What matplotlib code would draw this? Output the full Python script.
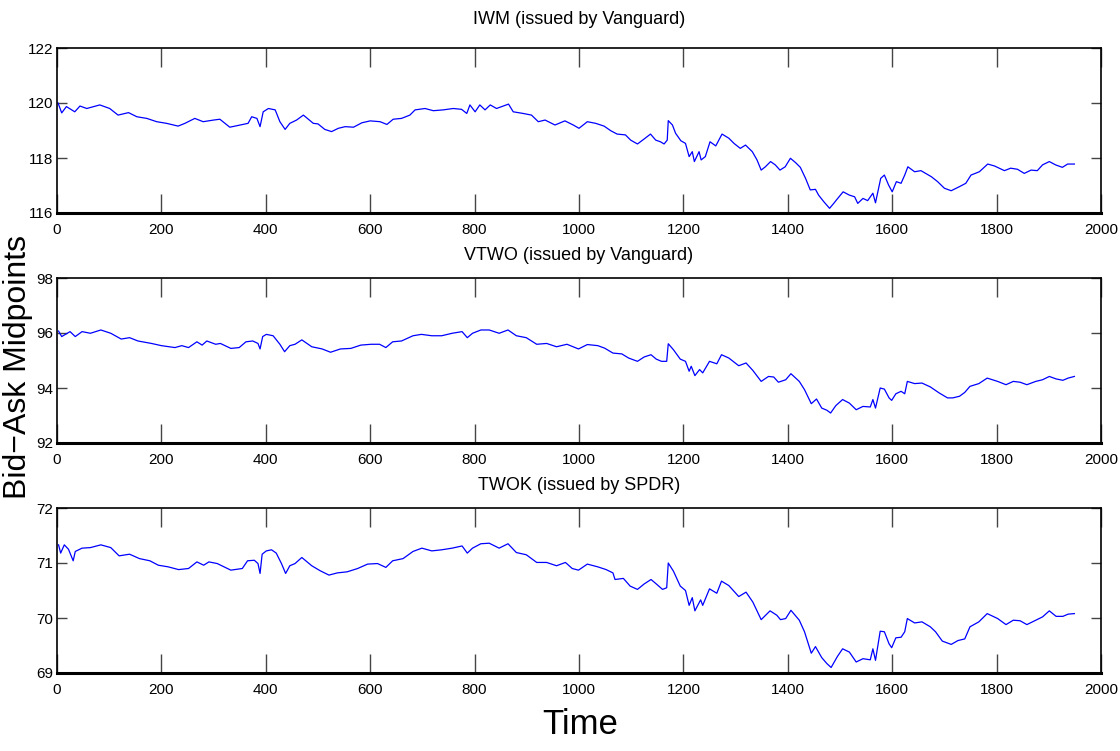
import numpy as np
import matplotlib
matplotlib.use("Agg")
import matplotlib.pyplot as plt

plt.rcParams['font.family'] = ['Liberation Sans', 'DejaVu Sans']

# IWM midpoints
iwm_t = [2, 9, 18, 34, 44, 57, 82, 101, 117, 137, 153, 172, 191, 210, 232, 245, 264, 280,
         300, 312, 331, 351, 366, 373, 383, 389, 395, 405, 418, 427, 437, 446, 459, 472,
         491, 500, 513, 526, 539, 552, 568, 584, 600, 619, 632, 644, 660, 676, 686, 705,
         721, 740, 759, 775, 785, 791, 801, 810, 820, 830, 842, 855, 865, 874, 893, 909,
         922, 935, 954, 973, 989, 1000, 1016, 1032, 1048, 1061, 1073, 1089, 1099, 1112,
         1124, 1137, 1147, 1156, 1163, 1169, 1171, 1179, 1185, 1195, 1204, 1211, 1217,
         1221, 1230, 1234, 1242, 1251, 1262, 1274, 1287, 1297, 1309, 1319, 1332, 1341,
         1349, 1357, 1367, 1376, 1385, 1395, 1405, 1415, 1424, 1434, 1443, 1453, 1459,
         1469, 1480, 1488, 1493, 1506, 1518, 1528, 1534, 1544, 1553, 1563, 1568, 1578,
         1585, 1593, 1600, 1608, 1617, 1624, 1630, 1643, 1655, 1675, 1687, 1700, 1713,
         1729, 1741, 1751, 1767, 1783, 1796, 1815, 1827, 1840, 1853, 1866, 1878, 1888,
         1901, 1913, 1926, 1936, 1949]
iwm_px = [120.0, 119.64, 119.87, 119.68, 119.89, 119.8, 119.93, 119.8, 119.56, 119.65,
          119.5, 119.44, 119.32, 119.26, 119.16, 119.26, 119.44, 119.32, 119.38, 119.41,
          119.12, 119.2, 119.26, 119.5, 119.44, 119.14, 119.68, 119.8, 119.75, 119.32,
          119.04, 119.26, 119.38, 119.56, 119.26, 119.24, 119.04, 118.96, 119.08, 119.14,
          119.12, 119.28, 119.35, 119.32, 119.22, 119.41, 119.44, 119.56, 119.75, 119.8,
          119.72, 119.75, 119.8, 119.77, 119.62, 119.93, 119.68, 119.93, 119.75, 119.93,
          119.8, 119.89, 119.96, 119.68, 119.62, 119.56, 119.32, 119.38, 119.2, 119.35,
          119.2, 119.08, 119.32, 119.26, 119.16, 118.99, 118.87, 118.84, 118.65, 118.51,
          118.68, 118.87, 118.65, 118.59, 118.51, 118.65, 119.36, 119.2, 118.9, 118.63,
          118.53, 118.05, 118.23, 117.87, 118.23, 117.93, 118.05, 118.59, 118.44, 118.87,
          118.72, 118.53, 118.35, 118.47, 118.23, 117.93, 117.56, 117.68, 117.87, 117.75,
          117.56, 117.68, 117.99, 117.83, 117.66, 117.26, 116.84, 116.86, 116.65, 116.41,
          116.17, 116.35, 116.47, 116.77, 116.65, 116.59, 116.35, 116.53, 116.45, 116.72,
          116.37, 117.26, 117.38, 117.02, 116.77, 117.14, 117.08, 117.38, 117.68, 117.5,
          117.54, 117.32, 117.14, 116.9, 116.81, 116.96, 117.08, 117.38, 117.5, 117.78,
          117.71, 117.54, 117.63, 117.59, 117.44, 117.56, 117.54, 117.75, 117.87, 117.75,
          117.66, 117.78, 117.78]

# VTWO midpoints, middle panel
vtwo_t = [3, 9, 25, 35, 48, 64, 84, 103, 123, 139, 155, 181, 200, 226, 239, 252, 268, 278,
          287, 304, 313, 333, 349, 362, 375, 385, 389, 394, 401, 414, 427, 436, 446, 456,
          469, 488, 508, 524, 543, 563, 582, 602, 618, 630, 643, 660, 682, 698, 718, 737,
          757, 776, 786, 796, 812, 828, 847, 864, 880, 899, 919, 938, 957, 977, 999, 1016,
          1036, 1049, 1065, 1082, 1095, 1112, 1125, 1138, 1148, 1158, 1168, 1171, 1181,
          1194, 1204, 1211, 1215, 1222, 1231, 1237, 1250, 1264, 1273, 1287, 1306, 1320,
          1333, 1349, 1363, 1373, 1382, 1396, 1406, 1422, 1432, 1445, 1455, 1465, 1475,
          1482, 1492, 1505, 1518, 1531, 1544, 1558, 1563, 1568, 1577, 1585, 1594, 1599,
          1607, 1617, 1624, 1629, 1643, 1657, 1673, 1690, 1706, 1716, 1729, 1739, 1749,
          1766, 1782, 1802, 1818, 1832, 1845, 1858, 1875, 1888, 1901, 1914, 1927, 1937, 1949]
vtwo_px = [96.07, 95.87, 96.05, 95.87, 96.05, 95.99, 96.11, 95.99, 95.78, 95.83, 95.71,
           95.62, 95.54, 95.47, 95.54, 95.47, 95.68, 95.56, 95.71, 95.59, 95.62, 95.44,
           95.47, 95.68, 95.71, 95.62, 95.42, 95.87, 95.95, 95.9, 95.59, 95.32, 95.54,
           95.59, 95.75, 95.5, 95.42, 95.3, 95.42, 95.44, 95.56, 95.59, 95.59, 95.47,
           95.68, 95.71, 95.9, 95.95, 95.9, 95.9, 95.99, 96.05, 95.83, 95.99, 96.11,
           96.11, 95.99, 96.11, 95.9, 95.83, 95.59, 95.62, 95.5, 95.59, 95.42, 95.58,
           95.54, 95.45, 95.27, 95.24, 95.09, 94.97, 95.13, 95.21, 95.05, 94.97, 94.97,
           95.61, 95.39, 95.05, 94.97, 94.61, 94.79, 94.45, 94.67, 94.55, 94.97, 94.88,
           95.21, 95.09, 94.81, 94.91, 94.64, 94.24, 94.42, 94.4, 94.21, 94.3, 94.52,
           94.24, 93.94, 93.43, 93.6, 93.27, 93.19, 93.09, 93.36, 93.58, 93.45, 93.21,
           93.33, 93.31, 93.58, 93.27, 94.0, 93.96, 93.64, 93.55, 93.79, 93.88, 93.79,
           94.24, 94.16, 94.18, 94.04, 93.82, 93.64, 93.64, 93.7, 93.84, 94.06, 94.16,
           94.36, 94.24, 94.12, 94.24, 94.21, 94.12, 94.24, 94.3, 94.42, 94.33, 94.28,
           94.36, 94.42]

# TWOK midpoints, bottom panel
twok_t = [3, 7, 14, 22, 31, 35, 48, 64, 84, 103, 119, 139, 158, 178, 194, 213, 233, 252,
          268, 281, 291, 307, 333, 355, 365, 378, 385, 389, 393, 401, 411, 420, 430, 438,
          446, 456, 469, 488, 504, 521, 537, 556, 576, 595, 614, 630, 643, 663, 682, 699,
          718, 737, 757, 776, 786, 796, 812, 828, 847, 864, 880, 899, 919, 938, 957, 974,
          987, 999, 1016, 1036, 1052, 1065, 1069, 1085, 1098, 1112, 1125, 1138, 1148, 1160,
          1168, 1171, 1181, 1194, 1204, 1211, 1217, 1222, 1233, 1237, 1250, 1264, 1273,
          1287, 1306, 1320, 1333, 1349, 1366, 1379, 1386, 1396, 1406, 1422, 1432, 1445,
          1453, 1465, 1475, 1483, 1495, 1505, 1518, 1531, 1544, 1558, 1563, 1568, 1577,
          1585, 1594, 1599, 1607, 1617, 1624, 1629, 1643, 1657, 1673, 1683, 1696, 1713,
          1726, 1739, 1749, 1766, 1782, 1802, 1818, 1832, 1845, 1858, 1875, 1888, 1901,
          1914, 1927, 1937, 1949]
twok_px = [71.33, 71.18, 71.33, 71.25, 71.04, 71.21, 71.27, 71.28, 71.33, 71.28, 71.13,
           71.16, 71.08, 71.04, 70.96, 70.93, 70.88, 70.9, 71.02, 70.96, 71.02, 70.99,
           70.87, 70.9, 71.04, 71.05, 70.99, 70.81, 71.16, 71.22, 71.24, 71.18, 70.99,
           70.81, 70.95, 70.99, 71.1, 70.95, 70.86, 70.78, 70.82, 70.84, 70.9, 70.98,
           70.99, 70.92, 71.04, 71.08, 71.21, 71.27, 71.22, 71.24, 71.27, 71.31, 71.18,
           71.27, 71.35, 71.36, 71.27, 71.35, 71.19, 71.15, 71.01, 71.01, 70.95, 71.01,
           70.9, 70.87, 70.98, 70.93, 70.88, 70.82, 70.7, 70.72, 70.58, 70.52, 70.62,
           70.7, 70.62, 70.52, 70.55, 71.0, 70.85, 70.58, 70.5, 70.23, 70.37, 70.13,
           70.33, 70.23, 70.53, 70.45, 70.67, 70.59, 70.39, 70.47, 70.29, 69.97, 70.13,
           70.05, 69.97, 69.99, 70.14, 69.96, 69.75, 69.36, 69.48, 69.28, 69.17, 69.1,
           69.3, 69.44, 69.38, 69.2, 69.26, 69.24, 69.44, 69.23, 69.76, 69.75, 69.53,
           69.46, 69.64, 69.65, 69.75, 69.99, 69.91, 69.93, 69.84, 69.75, 69.58, 69.52,
           69.59, 69.62, 69.84, 69.93, 70.08, 69.99, 69.88, 69.96, 69.95, 69.88, 69.96,
           70.02, 70.13, 70.03, 70.03, 70.07, 70.08]

titles = ["IWM (issued by Vanguard)", "VTWO (issued by Vanguard)", "TWOK (issued by SPDR)"]
ylims = [(116, 122), (92, 98), (69, 72)]
yticks = [[116, 118, 120, 122], [92, 94, 96, 98], [69, 70, 71, 72]]
xticks = list(range(0, 2001, 200))

fig = plt.figure(figsize=(11.2, 7.51), dpi=100)

# axes boxes in pixels, measured on the reference
W, H = 1120, 751
left, right = 57, 1101
tops = [48, 278, 508]
ax_h = 165
title_pads = [17, 13, 13]

series = [(iwm_t, iwm_px), (vtwo_t, vtwo_px), (twok_t, twok_px)]
for i, (t, p) in enumerate(series):
    ax = fig.add_axes([left / W, 1 - (tops[i] + ax_h) / H, (right - left) / W, ax_h / H])
    ax.plot(t, p, color='blue', lw=0.9)
    ax.set_xlim(0, 2000)
    ax.set_ylim(*ylims[i])
    ax.set_xticks(xticks)
    ax.set_yticks(yticks[i])
    ax.tick_params(axis='both', direction='in', top=True, right=True, labelsize=11,
                   width=1.0, color='#444444')
    ax.tick_params(axis='x', length=13.5, pad=7)
    ax.tick_params(axis='y', length=7, pad=2.5)
    for s in ax.spines.values():
        s.set_linewidth(1.2)
    ax.spines['bottom'].set_linewidth(2.2)
    ax.set_title(titles[i], fontsize=13, pad=title_pads[i])

fig.text(0.016, 0.511, "Bid\u2212Ask Midpoints", rotation=90, ha='center', va='center',
         fontsize=23)
fig.text(0.518, 0.035, "Time", ha='center', va='center', fontsize=25)

fig.savefig("out.png", dpi=100)
